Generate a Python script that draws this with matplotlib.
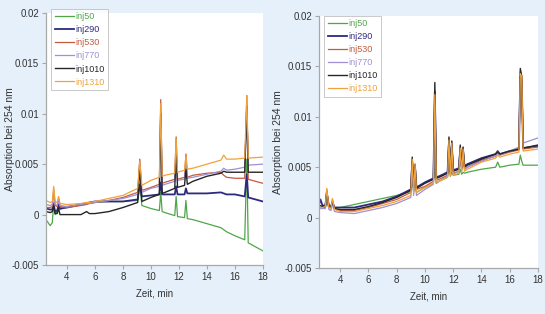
import matplotlib
matplotlib.use("Agg")
import matplotlib.pyplot as plt

# Retention times (min) used for the left chromatograms
t_left = [2.5, 2.8, 2.95, 3.05, 3.15, 3.3, 3.4, 3.5, 4.0, 5.0, 5.4, 5.6, 6.0, 7.0, 8.0,
          9.05, 9.2, 9.35, 10.0, 10.6, 10.7, 10.8, 11.0, 11.7, 11.8, 11.9, 12.4, 12.5,
          12.6, 13.0, 14.0, 15.0, 15.2, 15.4, 16.0, 16.7, 16.85, 16.95, 18.0]

inj50_left = [-0.0005, -0.0011, -0.0008, 0.0012, 0.0, 0.0003, 0.0008, 0.0005, 0.0008, 0.0010,
              0.0012, 0.0011, 0.0012, 0.0013, 0.0013, 0.0014, 0.0030, 0.0009, 0.0006, 0.0004,
              0.0022, 0.0003, 0.0002, -0.0001, 0.0018, -0.0002, -0.0003, 0.0014, -0.0004,
              -0.0005, -0.0009, -0.0013, -0.0015, -0.0017, -0.0021, -0.0025, 0.0055,
              -0.0028, -0.0036]
inj290_left = [0.0006, 0.0005, 0.0005, 0.0010, 0.0003, 0.0004, 0.0010, 0.0006, 0.0007, 0.0010,
               0.0011, 0.0012, 0.0013, 0.0013, 0.0013, 0.0015, 0.0030, 0.0018, 0.0019, 0.0020,
               0.0032, 0.0020, 0.0020, 0.0020, 0.0028, 0.0020, 0.0020, 0.0026, 0.0021, 0.0021,
               0.0021, 0.0022, 0.0021, 0.0020, 0.0020, 0.0018, 0.0040, 0.0017, 0.0013]
inj530_left = [0.0007, 0.0007, 0.0008, 0.0025, 0.0009, 0.0008, 0.0016, 0.0008, 0.0007, 0.0009,
               0.0010, 0.0011, 0.0012, 0.0014, 0.0017, 0.0022, 0.0055, 0.0024, 0.0027, 0.0030,
               0.0114, 0.0031, 0.0032, 0.0035, 0.0077, 0.0035, 0.0037, 0.0060, 0.0037, 0.0039,
               0.0041, 0.0042, 0.0039, 0.0037, 0.0036, 0.0036, 0.0118, 0.0035, 0.0031]
inj770_left = [0.0010, 0.0009, 0.0010, 0.0022, 0.0010, 0.0009, 0.0015, 0.0009, 0.0008, 0.0010,
               0.0011, 0.0011, 0.0012, 0.0014, 0.0016, 0.0020, 0.0050, 0.0022, 0.0026, 0.0028,
               0.0105, 0.0029, 0.0030, 0.0033, 0.0070, 0.0034, 0.0035, 0.0055, 0.0036, 0.0037,
               0.0040, 0.0043, 0.0046, 0.0044, 0.0045, 0.0047, 0.0110, 0.0049, 0.0050]
inj1010_left = [0.0003, 0.0002, 0.0003, 0.0008, 0.0001, 0.0001, 0.0006, 0.0000, 0.0000, 0.0000,
                0.0003, 0.0001, 0.0001, 0.0003, 0.0007, 0.0012, 0.0048, 0.0013, 0.0017, 0.0020,
                0.0100, 0.0021, 0.0022, 0.0026, 0.0061, 0.0027, 0.0029, 0.0045, 0.0030, 0.0033,
                0.0038, 0.0041, 0.0043, 0.0042, 0.0042, 0.0042, 0.0107, 0.0042, 0.0042]
inj1310_left = [0.0014, 0.0012, 0.0013, 0.0028, 0.0013, 0.0012, 0.0018, 0.0011, 0.0010, 0.0011,
                0.0012, 0.0012, 0.0013, 0.0016, 0.0019, 0.0026, 0.0053, 0.0029, 0.0034, 0.0037,
                0.0110, 0.0038, 0.0039, 0.0041, 0.0075, 0.0042, 0.0044, 0.0058, 0.0045, 0.0046,
                0.0050, 0.0054, 0.0059, 0.0055, 0.0055, 0.0056, 0.0118, 0.0056, 0.0057]

# Retention times (min) used for the right chromatograms
t_right = [2.5, 2.6, 2.75, 2.95, 3.05, 3.2, 3.35, 3.45, 3.6, 4.0, 5.0, 6.0, 7.0, 8.0, 9.0,
           9.1, 9.2, 9.3, 9.4, 10.0, 10.6, 10.7, 10.8, 11.0, 11.6, 11.7, 11.8, 11.9, 12.0,
           12.4, 12.5, 12.6, 12.7, 12.8, 13.0, 14.0, 15.0, 15.15, 15.3, 16.0, 16.65, 16.75,
           16.85, 16.95, 18.0]

inj50_right = [0.0010, 0.0010, 0.0010, 0.0010, 0.0015, 0.0010, 0.0010, 0.0013, 0.0010, 0.0010,
               0.0013, 0.0016, 0.0019, 0.0022, 0.0026, 0.0035, 0.0026, 0.0030, 0.0025, 0.0030,
               0.0034, 0.0050, 0.0034, 0.0036, 0.0040, 0.0050, 0.0041, 0.0045, 0.0042, 0.0043,
               0.0048, 0.0043, 0.0045, 0.0044, 0.0045, 0.0048, 0.0050, 0.0055, 0.0050, 0.0052,
               0.0053, 0.0062, 0.0056, 0.0052, 0.0052]
inj290_right = [0.0013, 0.0018, 0.0012, 0.0012, 0.0024, 0.0012, 0.0011, 0.0015, 0.0010, 0.0010,
                0.0010, 0.0013, 0.0016, 0.0021, 0.0028, 0.0055, 0.0030, 0.0050, 0.0030, 0.0035,
                0.0039, 0.0125, 0.0040, 0.0041, 0.0045, 0.0075, 0.0046, 0.0072, 0.0047, 0.0049,
                0.0068, 0.0050, 0.0066, 0.0051, 0.0053, 0.0059, 0.0063, 0.0066, 0.0063, 0.0066,
                0.0068, 0.0140, 0.0135, 0.0069, 0.0071]
inj530_right = [0.0010, 0.0010, 0.0010, 0.0011, 0.0028, 0.0011, 0.0010, 0.0018, 0.0009, 0.0007,
                0.0007, 0.0010, 0.0014, 0.0018, 0.0025, 0.0058, 0.0028, 0.0052, 0.0028, 0.0031,
                0.0036, 0.0125, 0.0037, 0.0038, 0.0042, 0.0078, 0.0043, 0.0075, 0.0044, 0.0046,
                0.0070, 0.0047, 0.0069, 0.0048, 0.0050, 0.0057, 0.0061, 0.0064, 0.0062, 0.0065,
                0.0067, 0.0145, 0.0141, 0.0068, 0.0070]
inj770_right = [0.0009, 0.0009, 0.0009, 0.0009, 0.0022, 0.0008, 0.0007, 0.0014, 0.0006, 0.0005,
                0.0004, 0.0007, 0.0010, 0.0014, 0.0020, 0.0050, 0.0022, 0.0046, 0.0022, 0.0028,
                0.0033, 0.0115, 0.0034, 0.0036, 0.0041, 0.0072, 0.0042, 0.0070, 0.0043, 0.0046,
                0.0066, 0.0047, 0.0065, 0.0048, 0.0050, 0.0056, 0.0061, 0.0065, 0.0062, 0.0066,
                0.0070, 0.0138, 0.0135, 0.0074, 0.0079]
inj1010_right = [0.0011, 0.0012, 0.0011, 0.0011, 0.0026, 0.0011, 0.0010, 0.0016, 0.0009, 0.0008,
                 0.0008, 0.0011, 0.0015, 0.0020, 0.0027, 0.0060, 0.0030, 0.0053, 0.0029, 0.0034,
                 0.0038, 0.0134, 0.0039, 0.0040, 0.0044, 0.0080, 0.0045, 0.0076, 0.0046, 0.0048,
                 0.0072, 0.0049, 0.0070, 0.0050, 0.0052, 0.0058, 0.0063, 0.0065, 0.0063, 0.0066,
                 0.0068, 0.0148, 0.0140, 0.0069, 0.0072]
inj1310_right = [0.0010, 0.0010, 0.0010, 0.0011, 0.0029, 0.0010, 0.0009, 0.0019, 0.0008, 0.0006,
                 0.0006, 0.0009, 0.0012, 0.0016, 0.0022, 0.0058, 0.0025, 0.0053, 0.0025, 0.0030,
                 0.0034, 0.0122, 0.0035, 0.0036, 0.0040, 0.0077, 0.0041, 0.0074, 0.0042, 0.0044,
                 0.0069, 0.0045, 0.0068, 0.0046, 0.0048, 0.0055, 0.0059, 0.0062, 0.0060, 0.0063,
                 0.0065, 0.0143, 0.0140, 0.0066, 0.0068]

labels = ['inj50', 'inj290', 'inj530', 'inj770', 'inj1010', 'inj1310']
colors = ['#4fa64a', '#2e2a80', '#c45a3e', '#9d90d6', '#262626', '#f0a23c']
widths = [0.9, 1.3, 0.9, 0.9, 1.0, 0.9]

x_ticks = [4, 6, 8, 10, 12, 14, 16, 18]
y_ticks = [-0.005, 0, 0.005, 0.01, 0.015, 0.02]
y_tick_labels = ['-0.005', '0', '0.005', '0.01', '0.015', '0.02']

bg = '#e6f0fa'
grey = '#a8a8a8'
text_col = '#333333'

plt.rcParams['font.family'] = ['Liberation Sans Narrow', 'Liberation Sans', 'DejaVu Sans']


def draw_panel(ax, t, series, legend_top, ylab_x):
    for vals, lab, col, lw in zip(series, labels, colors, widths):
        ax.plot(t, vals, color=col, lw=lw, label=lab)
    ax.set_facecolor('white')
    ax.set_xlim(2.5, 18)
    ax.set_ylim(-0.005, 0.02)
    ax.set_xticks(x_ticks)
    ax.set_yticks(y_ticks)
    ax.set_yticklabels(y_tick_labels)
    for s in ['top', 'right']:
        ax.spines[s].set_visible(False)
    for s in ['left', 'bottom']:
        ax.spines[s].set_color(grey)
        ax.spines[s].set_linewidth(0.9)
    ax.tick_params(colors=grey, labelcolor=text_col, labelsize=7, length=3, width=0.8, pad=2)
    ax.set_xlabel('Zeit, min', fontsize=7, color=text_col, labelpad=5)
    ax.set_ylabel('Absorption bei 254 nm', fontsize=7.5, color=text_col)
    ax.yaxis.set_label_coords(ylab_x, 0.5)
    leg = ax.legend(loc='upper left', bbox_to_anchor=(0.025, legend_top), fontsize=6.5,
                    frameon=True, fancybox=False, handlelength=2.2, handletextpad=0.15,
                    labelspacing=0.45, borderpad=0.35, borderaxespad=0.0)
    leg.get_frame().set_edgecolor('#bbbbbb')
    leg.get_frame().set_linewidth(0.7)
    for txt, col in zip(leg.get_texts(), colors):
        txt.set_color(col)


fig = plt.figure(figsize=(5.45, 3.14), dpi=100, facecolor=bg)
ax1 = fig.add_axes([0.0844, 0.156, 0.398, 0.803])
ax2 = fig.add_axes([0.5853, 0.1465, 0.4018, 0.8025])

draw_panel(ax1, t_left, [inj50_left, inj290_left, inj530_left, inj770_left,
                         inj1010_left, inj1310_left], 1.015, -0.145)
draw_panel(ax2, t_right, [inj50_right, inj290_right, inj530_right, inj770_right,
                          inj1010_right, inj1310_right], 1.0, -0.165)

fig.savefig('out.png', dpi=100, facecolor=bg)
